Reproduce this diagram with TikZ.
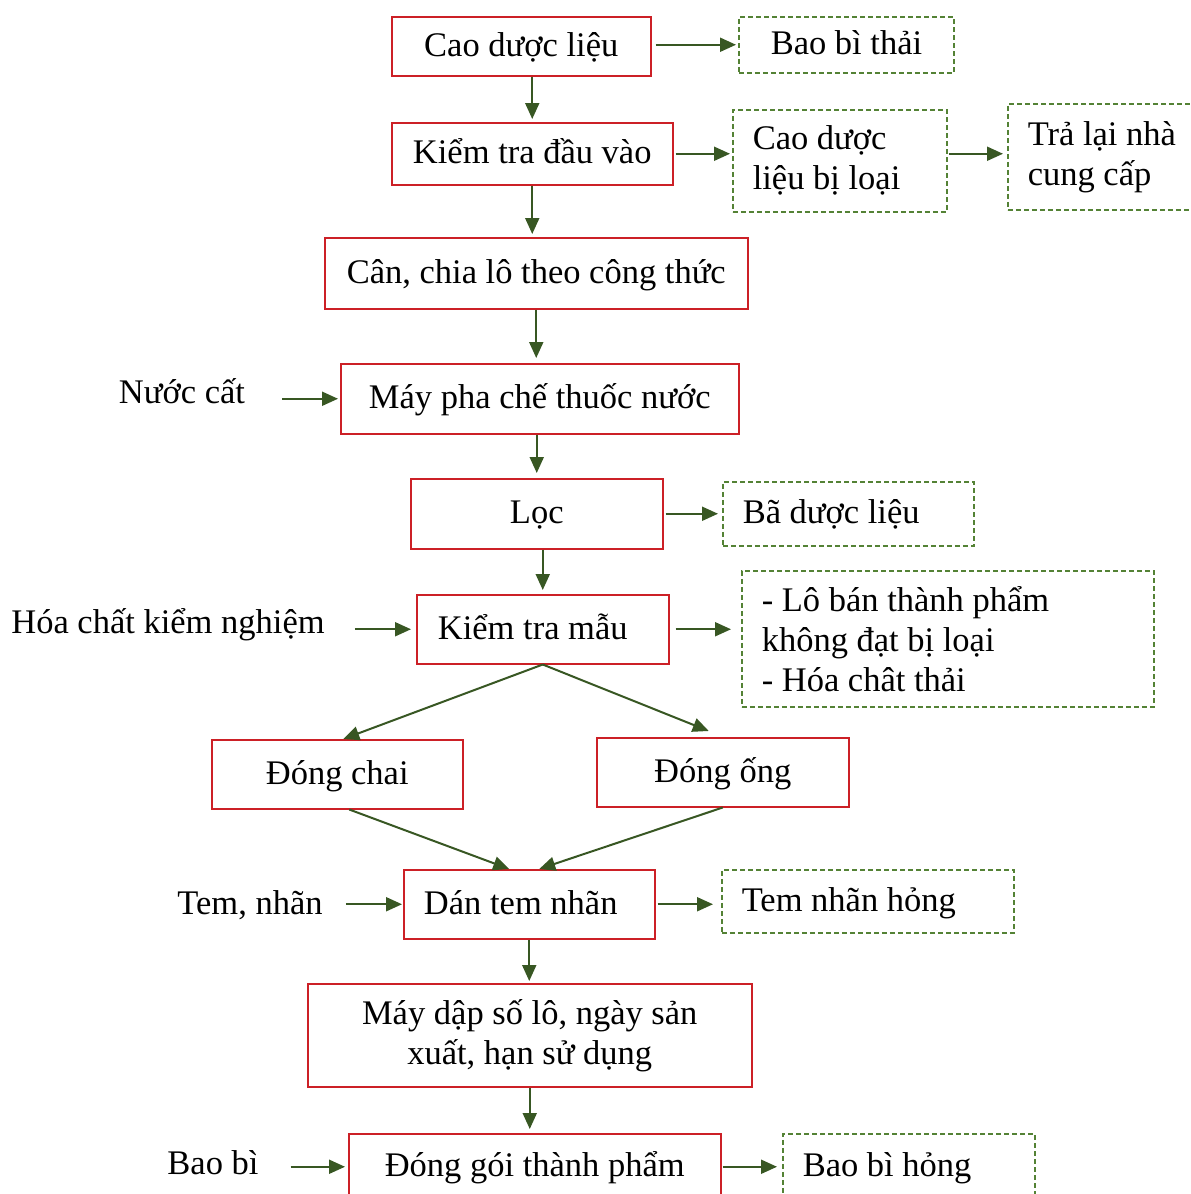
\documentclass[tikz,border=0pt]{standalone}
\usepackage{fontspec}
\setmainfont{Liberation Serif}
\usetikzlibrary{arrows.meta}
\definecolor{boxred}{RGB}{204,32,38}
\definecolor{dgreen}{RGB}{84,130,53}
\definecolor{agreen}{RGB}{56,87,35}
\tikzset{
  txt/.style={font=\fontsize{34.5}{40}\selectfont},
  one/.style={text height=25pt,text depth=5pt},
  rbox/.style={txt,draw=boxred,line width=1.5pt,rectangle,inner sep=0pt,anchor=north west,align=center},
  gbox/.style={txt,draw=dgreen,line width=1.5pt,dash pattern=on 5pt off 3pt,rectangle,inner xsep=20pt,inner ysep=0pt,anchor=north west,align=flush left},
  lbl/.style={txt,inner sep=0pt,anchor=base},
  arr/.style={draw=agreen,line width=2pt,-{Triangle[length=16pt,width=14pt]}}
}
\begin{document}
\begin{tikzpicture}[x=1pt,y=-1pt]
\useasboundingbox (0,0) rectangle (1191,1194);
\clip (0,0) rectangle (1191,1194);
% main column
\node[rbox,one,minimum width=259pt,minimum height=59pt] (cao) at (391,16) {Cao dược liệu};
\node[rbox,one,minimum width=281pt,minimum height=62pt] (kt) at (391,122) {Kiểm tra đầu vào};
\node[rbox,one,minimum width=423pt,minimum height=71pt] (can) at (324,237) {Cân, chia lô theo công thức};
\node[rbox,one,minimum width=398pt,minimum height=70pt] (maypha) at (340,363) {Máy pha chế thuốc nước};
\node[rbox,one,minimum width=252pt,minimum height=70pt] (loc) at (410,478) {Lọc};
\node[rbox,one,minimum width=252pt,minimum height=69pt] (ktm) at (416,594) {Kiểm tra mẫu\hspace*{20pt}};
\node[rbox,one,minimum width=251pt,minimum height=69pt] (chai) at (211,739) {Đóng chai};
\node[rbox,one,minimum width=252pt,minimum height=69pt] (ong) at (596,737) {Đóng ống};
\node[rbox,one,minimum width=251pt,minimum height=69pt] (dan) at (403,869) {Dán tem nhãn\hspace*{17pt}};
\node[rbox,minimum width=444pt,minimum height=103pt] (maydap) at (307,983) {Máy dập số lô, ngày sản\\xuất, hạn sử dụng};
\node[rbox,one,minimum width=372pt,minimum height=66pt] (donggoi) at (348,1133) {Đóng gói thành phẩm};
% right side waste boxes
\node[gbox,one,text width=175pt,minimum height=56pt] (baothai) at (738,16) {\hspace*{12pt}Bao bì thải};
\node[gbox,text width=174pt,minimum height=102pt] (loai) at (732,109) {Cao dược\\liệu bị loại};
\node[gbox,text width=170pt,minimum height=106pt] (tralai) at (1007,103) {Trả lại nhà\\cung cấp};
\node[gbox,one,text width=211pt,minimum height=64pt] (ba) at (722,481) {Bã dược liệu};
\node[gbox,text width=372pt,minimum height=136pt] (loaib) at (741,570) {- Lô bán thành phẩm\\không đạt bị loại\\- Hóa chât thải};
\node[gbox,one,text width=252pt,minimum height=63pt] (temhong) at (721,869) {Tem nhãn hỏng};
\node[gbox,one,text width=212pt,minimum height=66pt] (bbh) at (782,1133) {Bao bì hỏng};
% left inputs
\node[lbl] (nuoc) at (182,403) {Nước cất};
\node[lbl] (hoachat) at (168,633) {Hóa chất kiểm nghiệm};
\node[lbl] (tem) at (250,914) {Tem, nhãn};
\node[lbl] (baobi) at (213,1174) {Bao bì};
% vertical arrows
\draw[arr,shorten >=3pt] (cao.south -| kt.north) -- (kt.north);
\draw[arr,shorten >=3pt] (kt.south) -- (kt.south |- can.north);
\draw[arr,shorten >=5pt] (can.south) -- (can.south |- maypha.north);
\draw[arr,shorten >=5pt] (maypha.south -| loc.north) -- (loc.north);
\draw[arr,shorten >=4pt] (loc.south -| ktm.north) -- (ktm.north);
\draw[arr] (ktm.south) -- ([xshift=6pt]chai.north);
\draw[arr] (ktm.south) -- ([xshift=-14pt,yshift=6pt]ong.north);
\draw[arr] ([xshift=12pt]chai.south) -- ([xshift=-20pt]dan.north);
\draw[arr] (ong.south) -- ([xshift=10pt]dan.north);
\draw[arr,shorten >=2pt] (dan.south) -- (dan.south |- maydap.north);
\draw[arr,shorten >=4pt] (maydap.south) -- (maydap.south |- donggoi.north);
% horizontal arrows
\draw[arr,shorten <=4pt,shorten >=2pt] (cao.east |- baothai.west) -- (baothai.west);
\draw[arr,shorten <=2pt,shorten >=2pt] (kt.east) -- (kt.east -| loai.west);
\draw[arr,shorten <=1pt,shorten >=4pt] (loai.east |- kt.east) -- (tralai.west |- kt.east);
\draw[arr,shorten <=37pt,shorten >=2pt] (nuoc.east |- maypha.west) -- (maypha.west);
\draw[arr,shorten <=2pt,shorten >=4pt] (loc.east) -- (loc.east -| ba.west);
\draw[arr,shorten <=30pt,shorten >=5pt] (hoachat.east |- ktm.west) -- (ktm.west);
\draw[arr,shorten <=6pt,shorten >=10pt] (ktm.east) -- (ktm.east -| loaib.west);
\draw[arr,shorten <=23pt,shorten >=1pt] (tem.east |- dan.west) -- (dan.west);
\draw[arr,shorten <=2pt,shorten >=8pt] (dan.east) -- (dan.east -| temhong.west);
\draw[arr,shorten <=32pt,shorten >=3pt] (baobi.east |- donggoi.west) -- (donggoi.west);
\draw[arr,shorten <=1pt,shorten >=5pt] (donggoi.east) -- (donggoi.east -| bbh.west);
\end{tikzpicture}
\end{document}
